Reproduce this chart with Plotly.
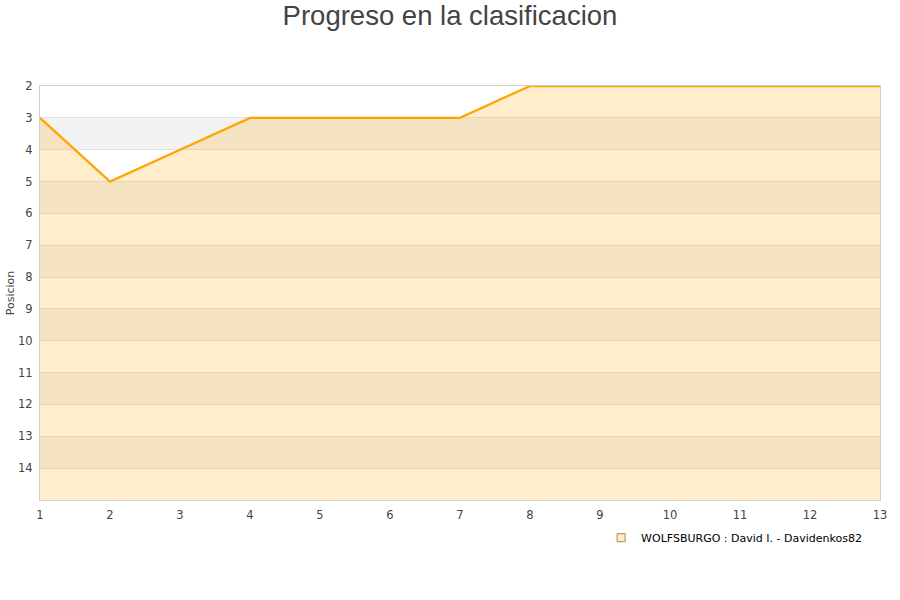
import plotly.graph_objects as go

jornadas = [1, 2, 3, 4, 5, 6, 7, 8, 9, 10, 11, 12, 13]
posiciones = [3, 5, 4, 3, 3, 3, 3, 2, 2, 2, 2, 2, 2]
serie = "WOLFSBURGO : David I. - Davidenkos82"
y_ticks = list(range(2, 15))
y_min, y_max = 2, 15

fig = go.Figure()

# alternating gray bands
shapes = []
for k in range(3, 15, 2):
    shapes.append(dict(type="rect", xref="paper", yref="y", x0=0, x1=1, y0=k, y1=k + 1,
                       fillcolor="#f2f2f2", line=dict(width=0), layer="below"))

fig.add_trace(go.Scatter(x=jornadas, y=[y_max] * len(jornadas), mode="lines",
                         line=dict(width=0, color="rgba(0,0,0,0)"), showlegend=False,
                         hoverinfo="skip"))
fig.add_trace(go.Scatter(x=jornadas, y=posiciones, mode="lines", name=serie,
                         line=dict(color="#FFA500", width=2.3), showlegend=False,
                         fill="tonexty", fillcolor="rgba(255,165,0,0.2)"))
# legend entry with square symbol
fig.add_trace(go.Scatter(x=[None], y=[None], mode="markers", name=serie,
                         marker=dict(symbol="square", size=8, color="#FFECC9",
                                     line=dict(color="#B08850", width=1))))

fig.update_layout(
    width=900, height=600,
    paper_bgcolor="white", plot_bgcolor="white",
    margin=dict(l=40, r=20, t=86, b=100, autoexpand=False),
    title=dict(text="Progreso en la clasificacion", x=0.5, xanchor="center",
               yref="container", y=0.974, yanchor="middle",
               font=dict(family="Liberation Sans, Arial", size=27.5, color="#444444")),
    font=dict(family="DejaVu Sans", size=11, color="#444444"),
    shapes=shapes,
    showlegend=True,
    legend=dict(orientation="h", x=0.668, xanchor="left", y=-0.056, yanchor="top",
                font=dict(family="DejaVu Sans", size=11, color="#000000"),
                bgcolor="rgba(0,0,0,0)", itemwidth=30),
)
fig.update_xaxes(range=[1, 13], tickvals=jornadas, showgrid=False, zeroline=False,
                 showline=True, linecolor="#d0d0d0", mirror=True, ticks="",
                 ticklabelstandoff=4,
                 automargin=False, tickfont=dict(size=11.5, color="#444444"))
fig.update_yaxes(range=[y_max, y_min], tickvals=y_ticks, showgrid=True, gridcolor="#e0e0e0",
                 zeroline=False, showline=True, linecolor="#d0d0d0", mirror=True, ticks="",
                 ticklabelstandoff=4,
                 automargin=False,
                 title=dict(text="Posicion", font=dict(size=11, color="#444444"), standoff=1),
                 tickfont=dict(size=11.5, color="#444444"))

fig.write_html("out.html", config={"displayModeBar": False},
               post_script="document.body.style.margin='0';")
